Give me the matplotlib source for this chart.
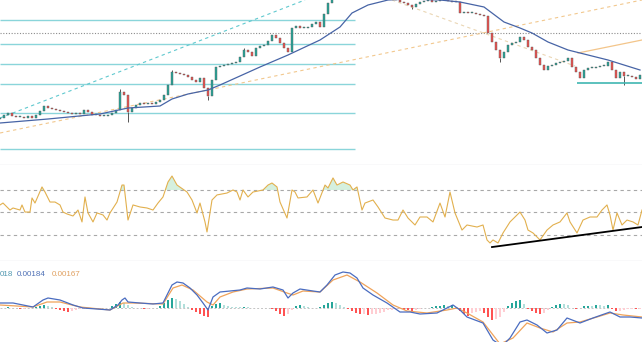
import numpy as np
import matplotlib.pyplot as plt

# price in chart units (crop shows no price scale), one close per bar
close = [47, 50, 52, 49, 48, 48, 47, 49, 47, 50,
         54, 59, 57, 56, 55, 54, 53, 52, 51, 52,
         51, 55, 53, 50, 50, 49, 49, 50, 52, 55,
         73, 70, 53, 57, 60, 62, 61, 62, 61, 63,
         65, 70, 80, 93, 92, 91, 90, 88, 85, 83,
         87, 77, 69, 85, 98, 99, 100, 101, 102, 103,
         108, 115, 113, 109, 117, 119, 120, 124, 130, 127,
         122, 117, 113, 137, 139, 137, 137, 138, 141, 143,
         138, 151, 162, 170, 177, 185, 191, 197, 201, 205,
         207, 203, 200, 195, 189, 183, 177, 173, 169, 165,
         163, 162, 160, 158, 161, 163, 164, 165, 163, 164,
         165, 166, 164, 163, 163, 152, 153, 152, 152, 151,
         150, 149, 132, 123, 115, 107, 113, 120, 122, 123,
         128, 125, 118, 115, 107, 100, 95, 99, 100, 102,
         103, 104, 107, 98, 93, 87, 95, 97, 97, 98,
         99, 99, 103, 95, 87, 93, 89, 89, 88, 86, 90]
first_open = 46
wick_hi = {30: 76, 43: 95, 61: 117}
wick_lo = {32: 43, 52: 65, 103: 156, 125: 103, 156: 80}

# moving average
ma_t = [0, 12, 25, 32, 40, 43, 47, 52, 55, 65, 72, 80, 85, 88, 92, 97, 102,
        110, 115, 121, 126, 130, 133, 137, 142, 152, 160]
ma_v = [42, 46, 51, 57, 59, 66, 71, 75, 80, 98, 110, 125, 138, 152, 160, 165,
        166, 165, 163, 158, 143, 137, 132, 123, 115, 105, 95]

# drawings
fib_levels = [145, 121, 101, 81, 52, 16]
fib_end = 88.7
dotted_level = 132
support_level = 82
support_start = 144.25
trend_cyan = [(0, 47), (76.25, 165)]
trend_orange = [(0, 32), (160.5, 165)]
trend_pale = [(98, 165), (143.75, 99)]
trend_solid = [(144.5, 112), (160.5, 125)]

# RSI
rsi_t = [0, 0.75, 1.75, 2.5, 3.25, 5, 5.5, 6.25, 7.5, 8,
         8.75, 10.5, 11.25, 12.5, 13.75, 15, 15.75, 16.75, 18.25, 19.5,
         20.5, 21.25, 22, 23.25, 24.25, 25.75, 26.75, 27.5, 29.25, 30.5,
         31, 32, 33.25, 35, 36.75, 38.25, 39.5, 40.75, 42, 43,
         44.25, 46.75, 48, 49.25, 50, 51.25, 51.75, 53, 54.25, 56.75,
         58.25, 59.25, 60, 60.75, 62, 63.25, 65.75, 67, 68, 69.25,
         70, 71.75, 73, 73.75, 74.5, 76.75, 78.25, 79.5, 81.25, 82,
         83.25, 84.25, 85.75, 87.5, 88.25, 89.25, 90.5, 91.25, 93.25, 94.5,
         96.25, 98.25, 99.5, 100.75, 102, 103.75, 105, 106.75, 108.25, 110,
         111.25, 112.5, 113.75, 115.5, 116.75, 119.25, 120.75, 121.75, 122.5, 123.25,
         124.5, 125.75, 127.5, 129.25, 130, 131.25, 132, 133.25, 135, 136.75,
         138.25, 140, 141.75, 142.5, 144.25, 145.75, 147.5, 149.25, 150.5, 151.75,
         152.5, 153.25, 154.25, 155.5, 156.75, 158.25, 159.5, 160.5]
rsi_v = [56.7, 58.4, 54.9, 52.2, 54.0, 52.2, 56.7, 50.4, 50.4, 62.9,
         58.4, 72.7, 68.2, 59.3, 59.3, 56.7, 50.4, 48.7, 46.9, 52.2,
         41.6, 63.8, 49.6, 41.6, 49.6, 47.8, 43.3, 49.6, 59.3, 74.4,
         74.4, 43.3, 56.7, 54.9, 54.0, 52.2, 58.4, 63.8, 77.1, 82.4,
         74.4, 68.2, 61.1, 49.6, 58.4, 41.6, 32.7, 61.1, 65.6, 67.3,
         70.0, 68.2, 61.1, 70.0, 63.8, 68.2, 70.0, 74.4, 76.2, 72.7,
         59.3, 45.1, 70.0, 68.2, 62.9, 63.8, 70.0, 58.4, 74.4, 71.8,
         80.7, 74.4, 77.1, 74.4, 70.0, 72.7, 52.2, 58.4, 61.1, 54.9,
         45.1, 43.3, 43.3, 52.2, 45.1, 38.9, 46.0, 46.0, 41.6, 58.4,
         46.0, 68.2, 49.6, 34.4, 38.9, 37.1, 38.9, 25.6, 22.9, 25.6,
         22.9, 31.8, 41.6, 47.8, 50.4, 43.3, 34.4, 31.8, 25.6, 34.4,
         38.9, 41.6, 49.6, 41.6, 31.8, 43.3, 46.0, 46.0, 52.2, 56.7,
         47.8, 34.4, 49.6, 38.9, 43.3, 41.6, 38.9, 52.2]
rsi_levels = [70, 50, 30]
rsi_trend = [(123, 19.3), (160.5, 37.1)]

# MACD
macd_t = [0, 3.25, 8.25, 10.75, 12, 15, 18.25, 20.75, 24.25, 27.5,
          29.5, 30.5, 31.25, 32, 35, 38.25, 40.75, 41.75, 43, 44.25,
          45.75, 47.5, 49.25, 50.75, 52, 53.25, 55, 57.5, 60, 61.75,
          65, 68.25, 70.75, 72, 73.25, 75, 78.25, 80, 81.75, 83.75,
          85.75, 87.5, 89.25, 90.75, 93.25, 96.75, 100, 102.5, 105, 109.25,
          113.25, 115, 116.75, 120.75, 123.25, 125.5, 127.5, 130, 131.75, 134.25,
          136.75, 139.25, 141.75, 145, 148.25, 152.5, 155, 157.5, 160.5]
macd_v = [0.0005, 0.0005, 0.0001, 0.0008, 0.0010, 0.0008, 0.0003, 0.0000, -0.0001, -0.0002,
          0.0003, 0.0008, 0.0010, 0.0006, 0.0005, 0.0004, 0.0005, 0.0013, 0.0023, 0.0026,
          0.0025, 0.0020, 0.0013, 0.0005, -0.0002, 0.0011, 0.0016, 0.0017, 0.0018, 0.0020,
          0.0019, 0.0021, 0.0018, 0.0010, 0.0015, 0.0019, 0.0017, 0.0016, 0.0023, 0.0033,
          0.0036, 0.0035, 0.0030, 0.0020, 0.0013, 0.0005, -0.0004, -0.0004, -0.0006, -0.0005,
          0.0003, -0.0002, -0.0009, -0.0015, -0.0032, -0.0038, -0.0030, -0.0014, -0.0012, -0.0017,
          -0.0025, -0.0022, -0.0010, -0.0015, -0.0010, -0.0004, -0.0009, -0.0009, -0.0010]
sig_t = [0, 8.25, 11.75, 15, 20, 27.5, 30.75, 33.25, 40.75, 43.25,
         45.5, 48.25, 51.75, 53.25, 55, 58.25, 61.75, 68.25, 71.75, 73.25,
         75.75, 80, 83.25, 86.75, 90, 94.25, 98.25, 101.75, 106.75, 111.75,
         114.25, 116.75, 120.75, 125, 128.25, 131.75, 135, 138.25, 141.75, 145,
         149.25, 152.5, 155.75, 160.5]
sig_v = [0.0003, 0.0001, 0.0006, 0.0006, 0.0001, -0.0002, 0.0005, 0.0005, 0.0004, 0.0020,
         0.0023, 0.0018, 0.0006, 0.0003, 0.0011, 0.0016, 0.0019, 0.0020, 0.0015, 0.0013,
         0.0017, 0.0016, 0.0028, 0.0033, 0.0026, 0.0015, 0.0003, -0.0003, -0.0005, -0.0002,
         0.0000, -0.0005, -0.0014, -0.0036, -0.0030, -0.0015, -0.0020, -0.0024, -0.0015, -0.0014,
         -0.0009, -0.0005, -0.0007, -0.0009]
# histogram, one per bar, in units of 1e-4
hist_e4 = [0.5, 0.5, 1, 0.5, 0, -0.5, -0.5, 0, 0.5, 1.5,
           2.5, 3, 2, 1, -0.5, -1.5, -2.5, -3.5, -3, -2,
           -1, -0.5, 0, 0, -0.5, -0.5, 0, 0.5, 2, 4,
           6, 5, 3, 1.5, 0.5, 0, -0.5, -0.5, 0, 0.5,
           2, 5, 8, 10, 9, 7, 4, 1.5, -2, -4,
           -6, -8, -9, 2, 4, 5, 3, 2, 1.5, 1,
           1, 1.5, 1, 0.5, 0.5, 0.5, 0.5, 0, -1, -3,
           -6, -8, -6, -2, 2, 3, 2, 1, 0.5, 0,
           1, 3, 5, 6, 5, 3, 1, -1, -3, -5,
           -6, -6, -7, -6, -6, -5, -4, -2, -1.5, -1,
           -1, -1.5, -2, -3, -2, -1, 0, 0.5, 1, 2,
           2.5, 3, 2.5, 3, 1, -3, -6, -8, -5, -4,
           -3, -5, -9, -12, -11, -9, -4, 2, 5, 7,
           8, 4, -1, -3, -5, -6, -5, -2, 1, 3,
           4, 4, 3, 0, -1, 0.5, 2, 2.5, 2.5, 3,
           3, 2.5, 3, -1, -3, -2.5, -2, -1, -0.5, -1,
           -0.5]
macd_labels = ["018", "0.00184", "0.00167"]

UP, DOWN = "#26a69a", "#ef5350"
GRID = "#e3e5ea"

fig = plt.figure(figsize=(6.42, 3.42), dpi=100)
W, H = 642, 342
ax = fig.add_axes([0, (H - 165) / H, 1, 165 / H])
ax_rsi = fig.add_axes([0, (H - 261) / H, 1, 96 / H])
ax_macd = fig.add_axes([0, 0, 1, 81 / H])
xlim = (0, 160.5)

for a in (ax, ax_rsi, ax_macd):
    a.set_xlim(*xlim)
    a.set_xticks([])
    a.set_yticks([])
    for s in a.spines.values():
        s.set_visible(False)
for a in (ax, ax_rsi):
    a.spines["bottom"].set_visible(True)
    a.spines["bottom"].set_color(GRID)
    a.spines["bottom"].set_linewidth(1.0)

# ---- price panel
ax.set_ylim(0, 165)
for lv in fib_levels:
    ax.hlines(lv, 0, fib_end, color="#8ad5da", lw=1.0, zorder=1)
ax.axhline(dotted_level, color="#8c8c8c", lw=0.8, ls=(0, (1, 1.5)), zorder=1)
ax.hlines(support_level, support_start, xlim[1], color="#3fb6b2", lw=1.2, zorder=3)
(x0, y0), (x1, y1) = trend_cyan
ax.plot([x0, x1], [y0, y1], color="#60c9cf", lw=0.8, ls=(0, (3, 3)), zorder=1)
(x0, y0), (x1, y1) = trend_orange
ax.plot([x0, x1], [y0, y1], color="#f2c88e", lw=0.8, ls=(0, (3, 3)), zorder=1)
(x0, y0), (x1, y1) = trend_pale
ax.plot([x0, x1], [y0, y1], color="#ead6b4", lw=0.8, ls=(0, (3, 3)), zorder=1)
(x0, y0), (x1, y1) = trend_solid
ax.plot([x0, x1], [y0, y1], color="#f3c58a", lw=0.9, zorder=1)

c = np.array(close, dtype=float)
o = np.concatenate([[first_open], c[:-1]])
idx = np.arange(len(c))
up = c >= o
cols = np.where(up, UP, DOWN)
h = c - o
h = np.where(np.abs(h) < 0.8, np.where(up, 0.8, -0.8), h)
for i, lo in wick_lo.items():
    ax.vlines(i, lo, min(o[i], c[i]), color="#555555", lw=0.7, zorder=2)
for i, hi in wick_hi.items():
    ax.vlines(i, max(o[i], c[i]), hi, color="#555555", lw=0.7, zorder=2)
ax.bar(idx, h, bottom=o, width=0.62, color=cols, edgecolor="#5a5a5a",
       linewidth=0.3, zorder=3)
ax.plot(ma_t, ma_v, color="#4764a6", lw=0.9, zorder=4)

# ---- RSI panel
ax_rsi.set_ylim(6.9, 92.2)
for lv in rsi_levels:
    ax_rsi.axhline(lv, color="#a8a8a8", lw=0.8, ls=(0, (3, 3)))
rt = np.array(rsi_t)
rv = np.array(rsi_v)
ax_rsi.fill_between(rt, 70, rv, where=rv > 70, interpolate=True,
                    color="#b9e6c9", alpha=0.6, lw=0)
ax_rsi.plot(rt, rv, color="#e2b04e", lw=0.8)
(x0, y0), (x1, y1) = rsi_trend
ax_rsi.plot([x0, x1], [y0, y1], color="black", lw=1.3)

# ---- MACD panel
ax_macd.set_ylim(-0.0034, 0.0047)
ax_macd.axhline(0, color="#c4c4c4", lw=0.7, ls=(0, (2, 2)))
hv = np.array(hist_e4) * 1e-4
prev = np.concatenate([[0], hv[:-1]])
hcol = []
for v, p in zip(hv, prev):
    if v >= 0:
        hcol.append("#26a69a" if v > p else "#b2dfdb")
    else:
        hcol.append("#ff5252" if v < p else "#ffcdd2")
ax_macd.bar(idx, hv, width=0.45, color=hcol, zorder=2)
ax_macd.plot(sig_t, sig_v, color="#f0a35a", lw=0.9, zorder=3)
ax_macd.plot(macd_t, macd_v, color="#4a6cc0", lw=0.9, zorder=4)

label_cols = ["#4f97b0", "#4d6fb5", "#e0a060"]
label_px = [0, 17, 52]
for txt, col, px in zip(macd_labels, label_cols, label_px):
    fig.text(px / W, (H - 274) / H, txt, color=col, fontsize=5.8,
             family="Liberation Sans", va="center", ha="left")

fig.savefig("out.png", dpi=100)
